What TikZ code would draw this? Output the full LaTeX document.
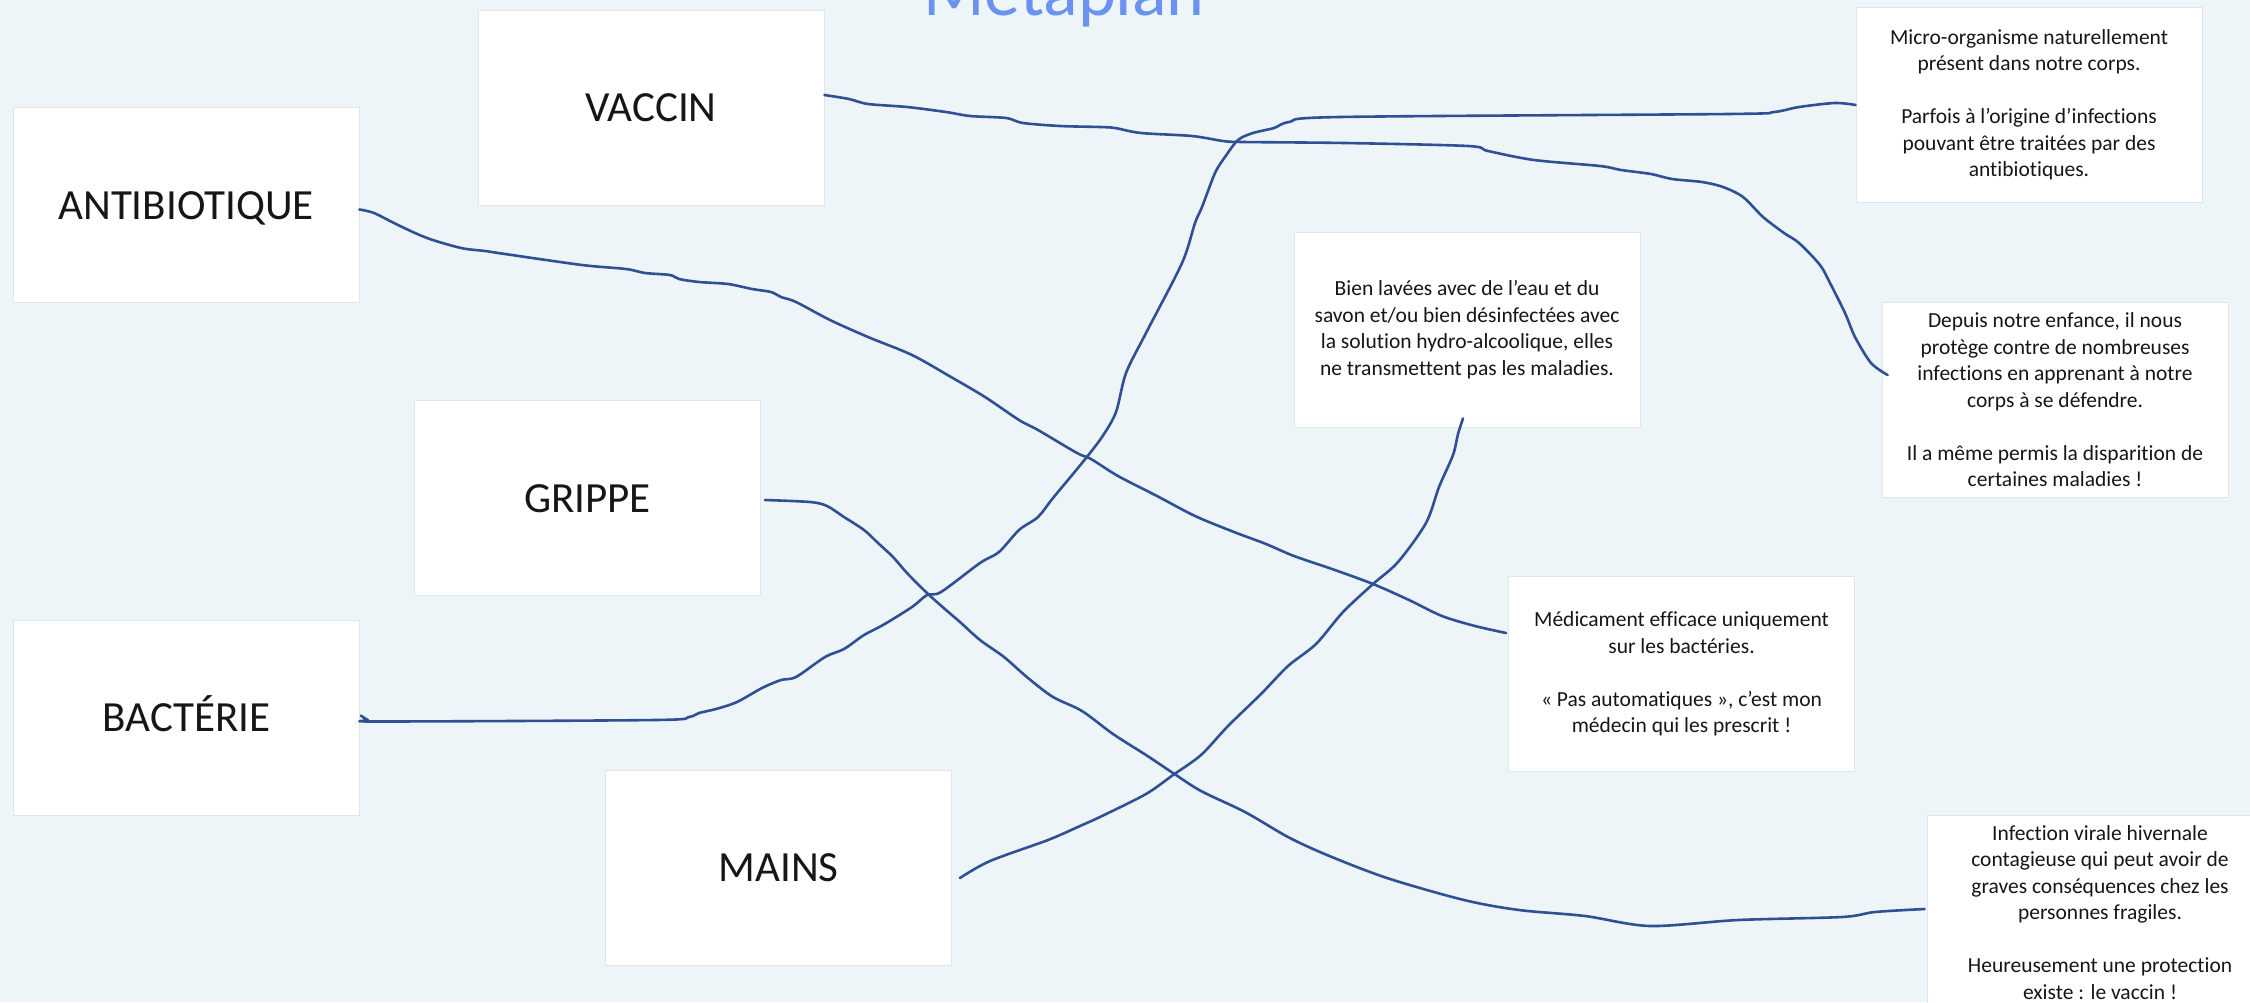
\documentclass[tikz,border=0pt]{standalone}
\usepackage{fontspec}
\setmainfont{Carlito}[Ligatures={NoCommon,NoContextual}]
\definecolor{bg}{RGB}{238,245,249}
\definecolor{cardline}{RGB}{226,229,232}
\definecolor{wire}{RGB}{47,80,148}
\definecolor{titleblue}{RGB}{106,146,240}
\definecolor{ink}{RGB}{22,22,22}
\begin{document}
\begin{tikzpicture}[x=1pt,y=-1pt,
  card/.style={draw=cardline, fill=white, line width=0.8pt, inner sep=0pt,
    minimum width=346pt, minimum height=195pt, text=ink},
  term/.style={card, font=\fontsize{43}{50}\selectfont, text height=28pt, text depth=0pt},
  defi/.style={card, align=center, font=\fontsize{21.5}{26.5}\selectfont},
  wire/.style={draw=wire, line width=2.6pt, line cap=round, line join=round},
  ttl/.style={text=titleblue, font=\fontsize{72}{80}\selectfont, anchor=base, inner sep=0pt}
]
\useasboundingbox (0,0) rectangle (2250,1002);
\clip (0,0) rectangle (2250,1002);
\fill[bg] (0,0) rectangle (2250,1002);

\node[ttl] (title) at (1064,15) {Metaplan};

% terms
\node[term] (antibio) at (186,205) {ANTIBIOTIQUE};
\node[term] (vaccin) at (651,107.5) {VACCIN};
\node[term] (grippe) at (587.5,498) {GRIPPE};
\node[term] (bacterie) at (186.5,717.5) {BACTÉRIE};
\node[term] (mains) at (778.5,867.5) {MAINS};

% definitions
\node[defi] (micro) at (2029,105) {Micro-organisme naturellement\\présent dans notre corps.\\[26.5pt]Parfois à l’origine d’infections\\pouvant être traitées par des\\antibiotiques.};
\node[defi] (bien) at (1467,329.5) {Bien lavées avec de l’eau et du\\savon et/ou bien désinfectées avec\\la solution hydro-alcoolique, elles\\ne transmettent pas les maladies.};
\node[defi] (depuis) at (2055,400) {Depuis notre enfance, il nous\\protège contre de nombreuses\\infections en apprenant à notre\\corps à se défendre.\\[26.5pt]Il a même permis la disparition de\\certaines maladies !};
\node[defi] (medic) at (1681.5,674) {Médicament efficace uniquement\\sur les bactéries.\\[26.5pt]« Pas automatiques », c’est mon\\médecin qui les prescrit !};
\node[defi] (infection) at (2100,912.5) {Infection virale hivernale\\contagieuse qui peut avoir de\\graves conséquences chez les\\personnes fragiles.\\[26.5pt]Heureusement une protection\\existe : le vaccin !};

% connectors
\draw[wire] plot[smooth, tension=0.5] coordinates {([yshift=12.5pt]vaccin.east) (849,99) (868,104) (907,107) (946,112) (970,116) (1006,118) (1023,123) (1060,126) (1100,127) (1115,128) (1141,133) (1192,136) (1223,141) (1243,142) (1345,143) (1468,146) (1488,151) (1534,160) (1600,166) (1621,170) (1651,174) (1672,179) (1702,182) (1723,187) (1743,197) (1763,217) (1784,233) (1799,243) (1820,265) (1830,283) (1845,313) (1855,337) (1871,363) ([xshift=6pt,yshift=25pt]depuis.west)};

\draw[wire] plot[smooth, tension=0.5] coordinates {([xshift=1pt,yshift=2pt]bacterie.east) (368,720) (380,721.5) (655,720) (689,717) (699,713) (716,709) (737,702) (762,688) (781,680) (796,677) (825,657) (844,649) (864,635) (883,625) (912,607) (927,595) (941,592) (980,563) (999,552) (1019,530) (1038,517) (1053,498) (1082,463) (1102,437) (1116,412) (1126,373) (1146,333) (1182,263) (1195,223) (1202,207) (1215,173) (1225,157) (1238,140) (1253,133) (1274,128) (1289,122) (1340,117) (1728,114) (1774,112) (1799,107) (1835,103) (micro.west)};

\draw[wire] plot[smooth, tension=0.5] coordinates {([yshift=-4.5pt]antibio.east) (374,213) (398,225) (427,238) (461,248) (485,251) (505,254) (582,265) (626,269) (645,273) (670,275) (679,279) (699,282) (728,284) (752,289) (771,292) (781,297) (796,302) (830,320) (868,337) (912,355) (951,377) (985,397) (1019,420) (1038,430) (1077,453) (1091,459) (1118,476) (1157,496) (1195,516) (1234,532) (1266,544) (1294,556) (1332,569) (1373,584) (1409,600) (1442,616) (1475,626) ([xshift=-2pt,yshift=41pt]medic.west)};

\draw[wire] plot[smooth, tension=0.5] coordinates {([xshift=4pt,yshift=-2pt]grippe.east) (810,502) (827,506) (844,517) (864,530) (878,543) (893,557) (907,573) (927,593) (946,610) (960,622) (980,640) (1004,657) (1028,678) (1053,697) (1082,711) (1113,734) (1146,755) (1173,773) (1201,791) (1245,812) (1288,837) (1327,855) (1387,878) (1464,900) (1519,910) (1585,916) (1650,926) (1738,920) (1842,917) (1875,912) ([xshift=-2pt,yshift=3.5pt]infection.west)};

\draw[wire] plot[smooth, tension=0.5] coordinates {([xshift=8pt,yshift=-10.5pt]mains.east) (990,861) (1048,840) (1080,826) (1102,816) (1146,794) (1173,775) (1201,755) (1228,726) (1261,694) (1288,666) (1316,644) (1343,612) (1373,584) (1398,562) (1426,523) (1439,487) (1453,455) (1458,434) ([xshift=-4pt,yshift=9pt]bien.south)};
\end{tikzpicture}
\end{document}
